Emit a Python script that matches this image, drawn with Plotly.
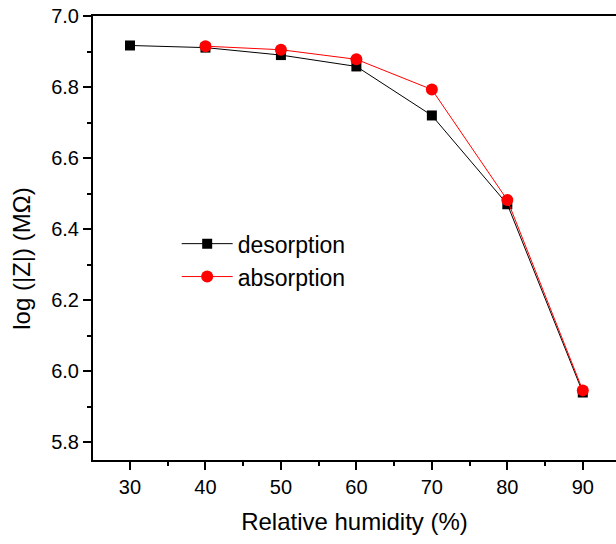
import plotly.graph_objects as go

humidity = [30, 40, 50, 60, 70, 80, 90]
desorption = [6.917, 6.911, 6.890, 6.858, 6.720, 6.470, 5.940]
humidity_abs = [40, 50, 60, 70, 80, 90]
absorption = [6.915, 6.905, 6.878, 6.793, 6.482, 5.946]

FONT = "Liberation Sans, Arial, sans-serif"

fig = go.Figure()
fig.add_trace(go.Scatter(
    x=humidity, y=desorption, mode="lines+markers", name="desorption",
    line=dict(color="black", width=1),
    marker=dict(symbol="square", size=10, color="black"),
))
fig.add_trace(go.Scatter(
    x=humidity_abs, y=absorption, mode="lines+markers", name="absorption",
    line=dict(color="red", width=1),
    marker=dict(symbol="circle", size=12, color="red"),
))

fig.update_layout(
    width=616, height=544,
    margin=dict(l=93, r=0, t=16, b=84),
    paper_bgcolor="white", plot_bgcolor="white",
    font=dict(family=FONT, color="black"),
    showlegend=True,
    legend=dict(
        x=0.16, y=0.45, xanchor="left", yanchor="middle",
        bgcolor="rgba(0,0,0,0)", font=dict(size=23, family=FONT),
        tracegroupgap=0, itemwidth=51,
    ),
    xaxis=dict(
        range=[25.1, 94.4], showgrid=False, zeroline=False,
        showline=True, linecolor="black", linewidth=2, mirror=True,
        ticks="outside", ticklen=8, tickwidth=2, tickcolor="black",
        tickvals=[30, 40, 50, 60, 70, 80, 90],
        minor=dict(ticks="outside", ticklen=4, tickwidth=2, tickcolor="black", dtick=5),
        tickfont=dict(size=20, family=FONT),
        title=dict(text="Relative humidity (%)", font=dict(size=24, family=FONT), standoff=16),
    ),
    yaxis=dict(
        range=[5.75, 7.0], showgrid=False, zeroline=False,
        showline=True, linecolor="black", linewidth=2,
        ticks="outside", ticklen=8, tickwidth=2, tickcolor="black",
        tickvals=[5.8, 6.0, 6.2, 6.4, 6.6, 6.8, 7.0],
        tickformat=".1f",
        minor=dict(ticks="outside", ticklen=4, tickwidth=2, tickcolor="black", dtick=0.1),
        tickfont=dict(size=20, family=FONT),
    ),
    annotations=[dict(
        text="log (|Z|) (MΩ)", textangle=-90, showarrow=False,
        xref="paper", yref="paper", x=-0.136, y=0.453,
        xanchor="center", yanchor="middle",
        font=dict(size=24, family=FONT),
    )],
)

fig.write_html("out.html")
